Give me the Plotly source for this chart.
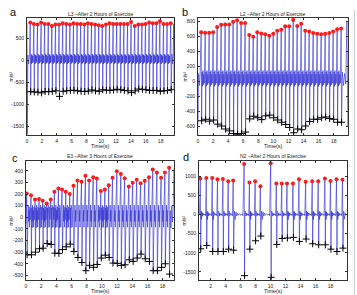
import plotly.graph_objects as go

# ---------------- Panel a : L3 ----------------
a_peak_t = [0.44, 0.92, 1.41, 1.90, 2.38, 2.87, 3.35, 3.84, 4.32, 4.81, 5.29, 5.78, 6.26, 6.75,
            7.23, 7.72, 8.20, 8.69, 9.17, 9.66, 10.14, 10.63, 11.11, 11.60, 12.08, 12.57, 13.05,
            13.54, 14.02, 14.51, 14.99, 15.48, 15.96, 16.45, 16.93, 17.42, 17.90, 18.39, 18.87, 19.36]
a_peak_v = [856, 826, 811, 856, 826, 826, 780, 811, 811, 841, 826, 811, 841, 826, 826, 811, 841,
            826, 811, 795, 780, 811, 841, 826, 826, 826, 826, 826, 871, 780, 811, 811, 826, 856,
            841, 841, 886, 826, 826, 841]
a_trough_v = [-710, -715, -720, -735, -705, -710, -700, -690, -815, -700, -690, -680, -675, -690,
              -700, -705, -695, -670, -690, -700, -665, -675, -680, -670, -655, -665, -680, -690,
              -730, -690, -650, -655, -665, -680, -680, -680, -700, -690, -680, -665]
a_wiggle = [140, -80, 125, -60, 100, -40]
a_lead_t, a_lead_v = [0.0, 0.03, 0.12, 0.22, 0.32], [850, -1680, 120, -80, 100]
a_tail_t, a_tail_v = [19.52, 19.60, 19.68, 19.76, 19.80], [140, -80, 120, 830, -650]

# ---------------- Panel b : L2 ----------------
b_peak_t = [0.42, 0.95, 1.48, 2.01, 2.54, 3.07, 3.60, 4.13, 4.66, 5.19, 5.72, 6.25, 6.80, 7.33,
            7.86, 8.39, 8.92, 9.45, 9.98, 10.51, 11.04, 11.57, 12.10, 12.63, 13.16, 13.69, 14.22,
            14.75, 15.28, 15.81, 16.34, 16.87, 17.40, 17.93, 18.46, 18.99]
b_peak_v = [650, 645, 645, 650, 720, 750, 755, 755, 790, 810, 775, 775, 615, 590, 650, 635, 625,
            605, 630, 670, 685, 730, 730, 815, 735, 765, 670, 660, 640, 630, 625, 630, 640, 660,
            690, 700]
b_trough_v = [-530, -510, -535, -520, -575, -600, -640, -665, -700, -710, -700, -680, -505, -470,
              -490, -515, -465, -455, -490, -520, -550, -580, -620, -690, -640, -650, -600, -540,
              -510, -510, -490, -480, -500, -510, -550, -550]
b_wiggle = [120, -70, 140, -50, 90, -30]
b_lead_t, b_lead_v = [0.0, 0.08, 0.18, 0.28], [-580, 100, -60, 90]
b_tail_t, b_tail_v = [19.15, 19.30, 19.45, 19.60, 19.75, 19.88], [120, -60, 100, -40, 800, -600]

# ---------------- Panel c : E3 ----------------
c_peak_t = [0.09, 0.66, 1.19, 1.72, 2.20, 2.73, 3.26, 3.74, 4.27, 4.75, 5.24, 5.77, 6.25, 6.78,
            7.31, 7.83, 8.32, 8.85, 9.33, 9.86, 10.39, 10.90, 11.40, 11.97, 12.50, 13.00, 13.55,
            14.06, 14.59, 15.10, 15.65, 16.20, 16.70, 17.25, 17.80, 18.30, 18.85]
c_peak_v = [206, 191, 154, 157, 143, 120, 154, 220, 249, 240, 220, 200, 271, 317, 306, 357, 317,
            346, 334, 226, 240, 277, 340, 397, 374, 337, 266, 297, 323, 294, 314, 346, 411, 386,
            340, 386, 426]
c_trough_v = [-323, -323, -300, -271, -266, -226, -234, -309, -311, -277, -254, -231, -294, -346,
              -389, -460, -414, -431, -406, -351, -326, -346, -394, -397, -414, -409, -366, -380,
              -351, -317, -357, -380, -460, -460, -431, -400, -489]
c_wiggle = [80, -90, 105, -35, 60, -85, 90, -20]
c_lead_t, c_lead_v = [0.0], [-60]
c_tail_t, c_tail_v = [19.00, 19.10, 19.20, 19.30, 19.40, 19.48], [60, -90, 100, -40, 80, 420]

# ---------------- Panel d : N2 ----------------
d_peak_t = [0.62, 1.42, 2.22, 2.92, 3.64, 4.35, 5.01, 6.47, 7.18, 7.94, 8.64, 10.02, 10.77,
            11.49, 12.19, 12.99, 13.79, 14.68, 15.56, 16.36, 17.25, 18.00, 18.80, 19.60]
d_peak_v = [940, 955, 955, 925, 930, 870, 890, 1320, 835, 870, 740, 1340, 810, 815, 815, 815,
            925, 855, 870, 870, 940, 880, 925, 910]
d_trough_v = [-895, -807, -965, -965, -965, -904, -930, -1596, -904, -684, -561, -1640, -781,
              -623, -614, -596, -702, -640, -763, -790, -790, -904, -965, -877]
d_wiggle = [90, -130, 70, -40, 40, -20, 15, 25, -15, 5, 15, -30]
d_lead_t, d_lead_v = [0.45, 0.52], [10, 30]
d_tail_t, d_tail_v = [19.75, 19.85, 19.95, 20.05, 20.15], [90, -120, 50, -20, 10]

panels = [
    dict(pt=a_peak_t, pv=a_peak_v, tv=a_trough_v, w=a_wiggle, lt=a_lead_t, lv=a_lead_v,
         tt=a_tail_t, tl=a_tail_v, xr=[0, 19.8], yr=[-1690, 960],
         yt=[500, 0, -500, -1000, -1500], xt=[0, 2, 4, 6, 8, 10, 12, 14, 16, 18],
         dom_x=[27 / 357, 174 / 357], dom_y=[1 - 135 / 295, 1 - 18 / 295],
         title="L3 \u2013After 2 Hours of Exercise", letter="a", lx=13, ly=12, ylx=10),
    dict(pt=b_peak_t, pv=b_peak_v, tv=b_trough_v, w=b_wiggle, lt=b_lead_t, lv=b_lead_v,
         tt=b_tail_t, tl=b_tail_v, xr=[0, 19.9], yr=[-720, 840],
         yt=[800, 600, 400, 200, 0, -200, -400, -600], xt=[0, 2, 4, 6, 8, 10, 12, 14, 16, 18],
         dom_x=[198 / 357, 348 / 357], dom_y=[1 - 135 / 295, 1 - 18 / 295],
         title="L2 \u2013After 2 Hours of Exercise", letter="b", lx=185, ly=12, ylx=184),
    dict(pt=c_peak_t, pv=c_peak_v, tv=c_trough_v, w=c_wiggle, lt=c_lead_t, lv=c_lead_v,
         tt=c_tail_t, tl=c_tail_v, xr=[0, 19.5], yr=[-540, 485],
         yt=[400, 300, 200, 100, 0, -100, -200, -300, -400, -500],
         xt=[0, 2, 4, 6, 8, 10, 12, 14, 16, 18],
         dom_x=[26 / 357, 174 / 357], dom_y=[1 - 280 / 295, 1 - 161 / 295],
         title="E3 \u2013After 3 Hours of Exercise", letter="c", lx=15, ly=158, ylx=10),
    dict(pt=d_peak_t, pv=d_peak_v, tv=d_trough_v, w=d_wiggle, lt=d_lead_t, lv=d_lead_v,
         tt=d_tail_t, tl=d_tail_v, xr=[0.45, 20.2], yr=[-1710, 1400],
         yt=[1000, 500, 0, -500, -1000, -1500], xt=[2, 4, 6, 8, 10, 12, 14, 16, 18],
         dom_x=[199 / 357, 347 / 357], dom_y=[1 - 280 / 295, 1 - 161 / 295],
         title="N2 \u2013After 2 Hours of Exercise", letter="d", lx=186, ly=157, ylx=183),
]


def build(p, t_down=0.06, t_up=0.05):
    xs, ys = list(p["lt"]), list(p["lv"])
    n = len(p["pt"])
    for i in range(n):
        xs += [p["pt"][i], p["pt"][i] + t_down]
        ys += [p["pv"][i], p["tv"][i]]
        if i < n - 1:
            start = p["pt"][i] + t_down
            end = p["pt"][i + 1] - t_up
            m = len(p["w"])
            for j, w in enumerate(p["w"]):
                xs.append(start + (end - start) * (j + 1) / (m + 1))
                ys.append(w)
    xs += list(p["tt"])
    ys += list(p["tl"])
    return xs, ys


FONT = "Liberation Sans, Arial, sans-serif"
fig = go.Figure()
layout = dict(width=357, height=295, margin=dict(l=0, r=0, t=0, b=0),
              paper_bgcolor="white", plot_bgcolor="white", showlegend=False,
              font=dict(family=FONT, size=5, color="#222"))
annotations = []
W, H = 357, 295

for k, p in enumerate(panels):
    sfx = "" if k == 0 else str(k + 1)
    xa, ya = "x" + sfx, "y" + sfx
    xs, ys = build(p)
    fig.add_trace(go.Scatter(x=xs, y=ys, mode="lines", xaxis=xa, yaxis=ya,
                             line=dict(color="#2a2ad2", width=0.6), hoverinfo="skip"))
    fig.add_trace(go.Scatter(x=p["pt"], y=p["pv"], mode="markers", xaxis=xa, yaxis=ya,
                             marker=dict(color="#ff1a1a", size=4, symbol="circle",
                                         line=dict(width=0))))
    tr_t = [t + 0.06 for t in p["pt"]]
    fig.add_trace(go.Scatter(x=tr_t, y=p["tv"], mode="markers", xaxis=xa, yaxis=ya,
                             marker=dict(color="black", size=5, symbol="cross-thin",
                                         line=dict(width=1, color="black"))))
    axcommon = dict(showline=True, mirror="ticks", linecolor="#333", linewidth=0.8,
                    ticks="inside", ticklen=2, tickwidth=0.6, tickcolor="#333",
                    showgrid=False, zeroline=False, tickfont=dict(size=5, family=FONT),
                    ticklabelstandoff=1)
    layout["xaxis" + sfx] = dict(axcommon, domain=p["dom_x"], range=p["xr"], anchor=ya,
                                 tickvals=p["xt"], ticktext=[str(v) for v in p["xt"]])
    layout["yaxis" + sfx] = dict(axcommon, domain=p["dom_y"], range=p["yr"], anchor=xa,
                                 tickvals=p["yt"], ticktext=[str(v) for v in p["yt"]])
    x0, x1 = p["dom_x"]
    ytop = (1 - p["dom_y"][1]) * H
    ybot = (1 - p["dom_y"][0]) * H
    annotations.append(dict(text=p["title"], x=(x0 + x1) / 2, y=1 - (ytop - 4.5) / H,
                            xref="paper", yref="paper", showarrow=False,
                            font=dict(size=5, family=FONT, color="#222"),
                            xanchor="center", yanchor="middle"))
    annotations.append(dict(text="Time(s)", x=(x0 + x1) / 2, y=1 - (ybot + 11) / H,
                            xref="paper", yref="paper", showarrow=False,
                            font=dict(size=5.5, family=FONT, color="#222"),
                            xanchor="center", yanchor="middle"))
    annotations.append(dict(text="m/s\u00b2", x=p["ylx"] / W, y=1 - ((ytop + ybot) / 2) / H,
                            xref="paper", yref="paper", showarrow=False, textangle=-90,
                            font=dict(size=5, family=FONT, color="#222"),
                            xanchor="center", yanchor="middle"))
    annotations.append(dict(text=p["letter"], x=p["lx"] / W, y=1 - p["ly"] / H,
                            xref="paper", yref="paper", showarrow=False,
                            font=dict(size=11, family=FONT, color="#111"),
                            xanchor="center", yanchor="middle"))

layout["annotations"] = annotations
layout["shapes"] = [dict(type="line", xref="paper", yref="paper", x0=354.5 / W, x1=354.5 / W,
                         y0=0, y1=1 - 10 / H, line=dict(color="#d0d0d0", width=1))]
fig.update_layout(**layout)
fig.write_html("out.html")
